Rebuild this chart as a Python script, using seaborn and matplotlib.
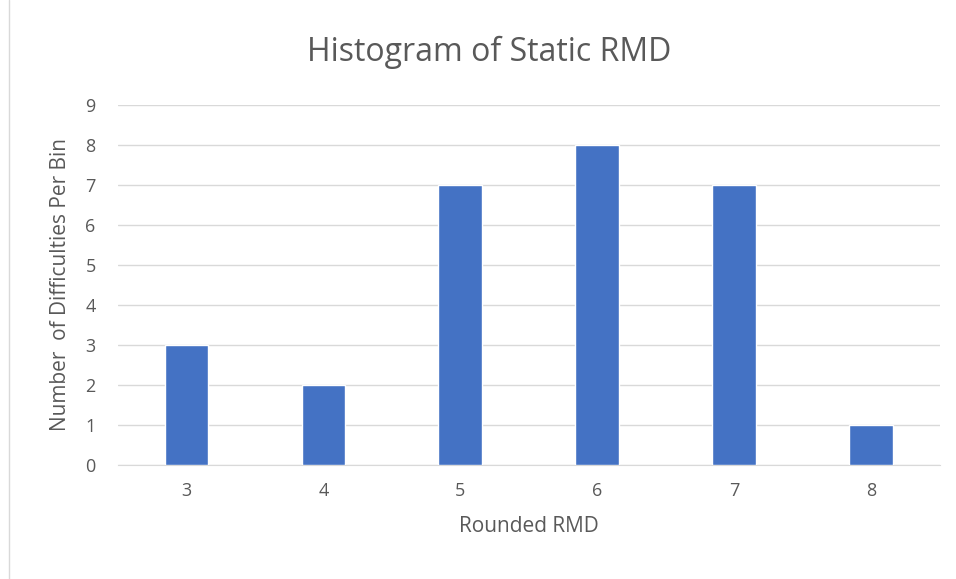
import matplotlib
matplotlib.use("Agg")
import matplotlib.pyplot as plt
import seaborn as sns
import pandas as pd

bins = ["3", "4", "5", "6", "7", "8"]
counts = [3, 2, 7, 8, 7, 1]
yticks = list(range(0, 10))

sns.set_style("white")
plt.rcParams['font.family'] = ['Open Sans', 'DejaVu Sans']

df = pd.DataFrame({"bin": bins, "count": counts})
fig = plt.figure(figsize=(9.56, 5.79), dpi=100)
ax = fig.add_axes([0.1234, 0.197, 0.8596, 0.6217])
sns.barplot(data=df, x="bin", y="count", color="#4472C4", width=0.32,
            saturation=1, ax=ax, zorder=3)
ax.set_ylim(0, 9)
ax.set_xlim(-0.5, 5.5)
ax.set_yticks(yticks)
ax.yaxis.grid(True, color="#D9D9D9", linewidth=1, zorder=0)
for s in ["top", "right", "left"]:
    ax.spines[s].set_visible(False)
ax.spines["bottom"].set_color("#D9D9D9")
ax.tick_params(axis="both", length=0, labelsize=13, colors="#595959")
ax.tick_params(axis="x", pad=12)
ax.tick_params(axis="y", pad=16)
ax.set_xlabel("Rounded RMD", fontsize=15, color="#595959", labelpad=12)
ax.set_ylabel("Number  of Difficulties Per Bin", fontsize=15, color="#595959", labelpad=10)
fig.text(0.512, 0.91, "Histogram of Static RMD", ha="center", va="center",
         fontsize=23, color="#595959")
fig.add_artist(plt.Line2D([0.009, 0.009], [0.0, 1.0], color="#D9D9D9", linewidth=1))
fig.savefig("out.png", dpi=100)
